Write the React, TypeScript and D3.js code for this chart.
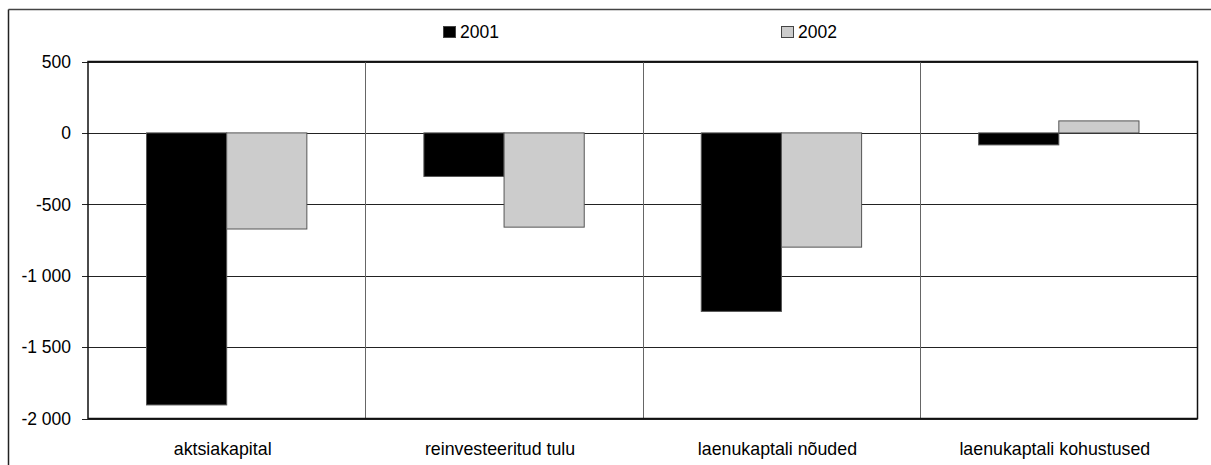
import React from "react";
import * as d3 from "d3";

const categories = ["aktsiakapital", "reinvesteeritud tulu", "laenukaptali nõuded", "laenukaptali kohustused"];
const seriesNames = ["2001", "2002"];
const values2001 = [-1905, -305, -1250, -84];
const values2002 = [-673, -660, -800, 84];
const yTicks = [500, 0, -500, -1000, -1500, -2000];

const W = 1211;
const H = 465;
const plot = { left: 88, right: 1197.5, top: 61.5, bottom: 418.5 };

const fmt = (v: number) => {
  const s = Math.abs(v).toString().replace(/\B(?=(\d{3})+(?!\d))/g, " ");
  return (v < 0 ? "-" : "") + s;
};

export default function App() {
  const x = d3.scaleBand<string>().domain(categories).range([plot.left, plot.right]).paddingInner(0).paddingOuter(0);
  const inner = d3.scaleBand<string>().domain(seriesNames).range([0, x.bandwidth()]).paddingInner(0).paddingOuter(0.73);
  const y = d3.scaleLinear().domain([-2000, 500]).range([plot.bottom, plot.top]);
  const fills = ["#000000", "#cccccc"];
  const data = [values2001, values2002];
  const font = "'Liberation Sans', Arial, sans-serif";

  return (
    <svg width={W} height={H} style={{ position: "absolute", left: 0, top: 0 }} fontFamily={font}>
      <rect x={0} y={0} width={W} height={H} fill="#fff" />
      {/* outer frame */}
      <line x1={8.5} y1={9.5} x2={W} y2={9.5} stroke="#444" strokeWidth={1.5} />
      <line x1={8.5} y1={9.5} x2={8.5} y2={H} stroke="#222" strokeWidth={1.5} />

      {/* horizontal gridlines */}
      {yTicks.map((t) => (
        <line key={"g" + t} x1={plot.left - 6} x2={plot.right} y1={Math.round(y(t)) + 0.5} y2={Math.round(y(t)) + 0.5} stroke="#222" strokeWidth={1} />
      ))}
      {/* category dividers */}
      {categories.slice(1).map((c) => (
        <line key={"d" + c} x1={Math.round(x(c)!) + 0.5} x2={Math.round(x(c)!) + 0.5} y1={plot.top} y2={plot.bottom} stroke="#666" strokeWidth={1} />
      ))}
      {/* plot frame */}
      <rect x={plot.left} y={plot.top} width={plot.right - plot.left} height={plot.bottom - plot.top} fill="none" stroke="#111" strokeWidth={1.5} />

      {/* bars */}
      {categories.map((c, i) =>
        seriesNames.map((s, j) => {
          const v = data[j][i];
          const x0 = x(c)! + inner(s)!;
          const y0 = Math.min(y(v), y(0));
          const h = Math.abs(y(v) - y(0));
          return (
            <rect key={c + s} x={x0} y={y0} width={inner.bandwidth()} height={h} fill={fills[j]} stroke="#555" strokeWidth={1} />
          );
        })
      )}

      {/* y tick labels */}
      {yTicks.map((t) => (
        <text key={"t" + t} x={71} y={y(t)} dy="0.36em" textAnchor="end" fontSize={17.5} fill="#000">
          {fmt(t)}
        </text>
      ))}

      {/* category labels */}
      {categories.map((c) => (
        <text key={"c" + c} x={x(c)! + x.bandwidth() / 2 - 4} y={455} textAnchor="middle" fontSize={17.8} fill="#000">
          {c}
        </text>
      ))}

      {/* legend */}
      {seriesNames.map((s, j) => {
        const lx = j === 0 ? 443.5 : 781.5;
        return (
          <g key={"l" + s}>
            <rect x={lx} y={26.5} width={12} height={11} fill={fills[j]} stroke="#444" strokeWidth={1} />
            <text x={lx + 16.5} y={37.7} fontSize={17.5} fill="#000">{s}</text>
          </g>
        );
      })}
    </svg>
  );
}
